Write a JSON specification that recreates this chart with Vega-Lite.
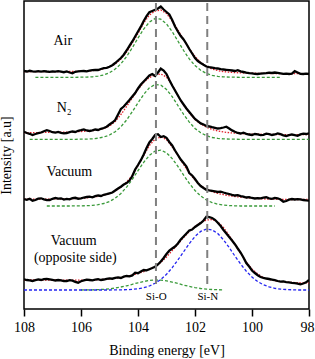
{
"$schema": "https://vega.github.io/schema/vega-lite/v6.json",
"width": 285, "height": 308,
"autosize": {"type": "none"},
"padding": {"left": 24, "top": 1, "right": 6, "bottom": 50},
"config": {"view": {"stroke": "#000", "strokeWidth": 1.5}, "font": "Liberation Serif"},
"datasets": {
"spec": [
{"e":108.0,"A":238,"N":177.3,"V":110.0,"O":29.7},
{"e":107.9,"A":237.5,"N":176.0,"V":109.2,"O":29.0},
{"e":107.8,"A":238.2,"N":175.2,"V":110.3,"O":28.6},
{"e":107.7,"A":237.6,"N":174.0,"V":108.3,"O":28.0},
{"e":107.6,"A":237.3,"N":175.0,"V":109.0,"O":28.8},
{"e":107.5,"A":237.8,"N":175.8,"V":110.4,"O":29.6},
{"e":107.4,"A":237.4,"N":176.5,"V":110.7,"O":29.0},
{"e":107.3,"A":237.9,"N":177.8,"V":109.6,"O":29.8},
{"e":107.2,"A":237.5,"N":178.8,"V":108.8,"O":30.2},
{"e":107.1,"A":237.2,"N":178.0,"V":109.0,"O":29.7},
{"e":107.0,"A":237.6,"N":176.8,"V":110.2,"O":29.2},
{"e":106.9,"A":237.3,"N":176.3,"V":111.0,"O":28.5},
{"e":106.8,"A":237.8,"N":177.0,"V":110.4,"O":29.0},
{"e":106.7,"A":237.4,"N":176.2,"V":110.7,"O":28.6},
{"e":106.6,"A":236.8,"N":175.6,"V":109.5,"O":27.8},
{"e":106.5,"A":237.5,"N":176.0,"V":110.2,"O":28.0},
{"e":106.4,"A":236.5,"N":176.8,"V":109.7,"O":28.9},
{"e":106.3,"A":235.8,"N":177.5,"V":110.8,"O":28.4},
{"e":106.2,"A":237.2,"N":177.0,"V":111.2,"O":27.2},
{"e":106.1,"A":237.6,"N":178.2,"V":110.3,"O":26.3},
{"e":106.0,"A":237.9,"N":178.8,"V":110.7,"O":27.8},
{"e":105.9,"A":238.0,"N":179.6,"V":111.5,"O":28.6},
{"e":105.8,"A":237.6,"N":178.5,"V":112.0,"O":29.3},
{"e":105.7,"A":238.4,"N":178.0,"V":112.3,"O":29.0},
{"e":105.6,"A":238.8,"N":178.6,"V":111.6,"O":28.6},
{"e":105.5,"A":239.2,"N":179.5,"V":112.8,"O":29.4},
{"e":105.4,"A":239.0,"N":179.0,"V":113.5,"O":29.8},
{"e":105.3,"A":240.0,"N":180.2,"V":113.0,"O":29.0},
{"e":105.2,"A":240.8,"N":181.0,"V":114.2,"O":29.5},
{"e":105.1,"A":241.2,"N":182.3,"V":114.8,"O":30.2},
{"e":105.0,"A":242.2,"N":184.5,"V":115.7,"O":30.7},
{"e":104.9,"A":243.8,"N":186.5,"V":116.5,"O":30.3},
{"e":104.8,"A":246.0,"N":189.0,"V":118.5,"O":31.2},
{"e":104.7,"A":248.5,"N":194.5,"V":120.5,"O":31.6},
{"e":104.6,"A":251.0,"N":200.0,"V":122.3,"O":31.0},
{"e":104.5,"A":254.3,"N":202.5,"V":124.5,"O":32.3},
{"e":104.4,"A":258.5,"N":205.7,"V":126.0,"O":33.0},
{"e":104.3,"A":263.2,"N":209.0,"V":128.5,"O":32.6},
{"e":104.2,"A":267.5,"N":212.5,"V":133.0,"O":33.6},
{"e":104.1,"A":272.5,"N":216.0,"V":139.5,"O":36.3},
{"e":104.0,"A":277.5,"N":220.5,"V":144.0,"O":35.8},
{"e":103.9,"A":282.3,"N":224.5,"V":148.8,"O":37.5},
{"e":103.8,"A":288.0,"N":227.5,"V":154.5,"O":39.0},
{"e":103.7,"A":292.8,"N":230.5,"V":161.0,"O":38.6},
{"e":103.6,"A":296.8,"N":233.5,"V":166.5,"O":39.8},
{"e":103.5,"A":298.0,"N":235.0,"V":170.0,"O":41.0},
{"e":103.4,"A":299.2,"N":233.0,"V":174.0,"O":42.3},
{"e":103.3,"A":300.5,"N":236.5,"V":174.8,"O":44.5},
{"e":103.2,"A":302.5,"N":240.5,"V":172.0,"O":47.5},
{"e":103.1,"A":299.5,"N":238.5,"V":172.8,"O":51.0},
{"e":103.0,"A":297.0,"N":235.0,"V":171.2,"O":55.0},
{"e":102.9,"A":294.5,"N":229.0,"V":167.0,"O":58.5},
{"e":102.8,"A":289.0,"N":223.5,"V":163.5,"O":60.5},
{"e":102.7,"A":282.5,"N":218.5,"V":158.5,"O":62.5},
{"e":102.6,"A":277.5,"N":213.5,"V":154.0,"O":65.5},
{"e":102.5,"A":273.0,"N":208.5,"V":149.5,"O":69.5},
{"e":102.4,"A":269.5,"N":204.5,"V":146.0,"O":72.5},
{"e":102.3,"A":265.0,"N":200.5,"V":142.5,"O":75.5},
{"e":102.2,"A":260.0,"N":197.0,"V":136.0,"O":78.5},
{"e":102.1,"A":255.5,"N":193.5,"V":133.5,"O":79.5},
{"e":102.0,"A":251.0,"N":190.0,"V":130.0,"O":82.0},
{"e":101.9,"A":248.0,"N":187.8,"V":126.0,"O":84.0},
{"e":101.8,"A":246.0,"N":185.6,"V":123.0,"O":86.0},
{"e":101.7,"A":244.2,"N":184.5,"V":121.0,"O":88.5},
{"e":101.6,"A":242.5,"N":183.0,"V":119.2,"O":92.3},
{"e":101.5,"A":241.8,"N":182.5,"V":118.6,"O":91.8},
{"e":101.4,"A":241.3,"N":181.8,"V":118.2,"O":91.0},
{"e":101.3,"A":240.8,"N":181.2,"V":117.6,"O":89.2},
{"e":101.2,"A":240.5,"N":180.5,"V":117.0,"O":86.2},
{"e":101.1,"A":239.8,"N":180.8,"V":117.4,"O":83.0},
{"e":101.0,"A":239.5,"N":181.5,"V":116.5,"O":79.0},
{"e":100.9,"A":239.2,"N":182.3,"V":115.7,"O":75.5},
{"e":100.8,"A":238.9,"N":180.5,"V":115.0,"O":72.0},
{"e":100.7,"A":238.5,"N":178.6,"V":114.2,"O":68.5},
{"e":100.6,"A":238.0,"N":177.2,"V":113.5,"O":64.8},
{"e":100.5,"A":238.8,"N":176.0,"V":113.8,"O":60.5},
{"e":100.4,"A":237.6,"N":175.5,"V":112.8,"O":56.5},
{"e":100.3,"A":237.0,"N":176.3,"V":112.3,"O":51.5},
{"e":100.2,"A":236.4,"N":175.2,"V":111.5,"O":46.0},
{"e":100.1,"A":235.9,"N":174.5,"V":111.9,"O":42.5},
{"e":100.0,"A":235.6,"N":174.0,"V":111.0,"O":38.5},
{"e":99.9,"A":235.2,"N":175.0,"V":110.5,"O":36.0},
{"e":99.8,"A":235.0,"N":174.6,"V":110.9,"O":33.8},
{"e":99.7,"A":235.3,"N":173.8,"V":110.7,"O":32.0},
{"e":99.6,"A":235.6,"N":174.2,"V":111.3,"O":31.2},
{"e":99.5,"A":235.9,"N":175.3,"V":111.7,"O":30.5},
{"e":99.4,"A":236.3,"N":174.8,"V":110.6,"O":30.0},
{"e":99.3,"A":236.0,"N":174.0,"V":110.2,"O":29.4},
{"e":99.2,"A":236.5,"N":174.5,"V":111.0,"O":28.8},
{"e":99.1,"A":236.2,"N":175.6,"V":110.7,"O":28.0},
{"e":99.0,"A":235.7,"N":174.8,"V":109.5,"O":27.3},
{"e":98.9,"A":235.2,"N":173.6,"V":107.3,"O":27.6},
{"e":98.8,"A":235.4,"N":173.0,"V":108.0,"O":26.9},
{"e":98.7,"A":235.0,"N":173.8,"V":109.4,"O":26.7},
{"e":98.6,"A":235.3,"N":174.5,"V":110.0,"O":26.2},
{"e":98.5,"A":237.8,"N":173.9,"V":109.5,"O":25.8},
{"e":98.4,"A":236.5,"N":173.2,"V":109.9,"O":25.4},
{"e":98.3,"A":235.2,"N":174.6,"V":109.7,"O":24.7},
{"e":98.2,"A":235.0,"N":175.4,"V":109.0,"O":25.5},
{"e":98.1,"A":235.3,"N":175.0,"V":108.6,"O":26.7},
{"e":98.0,"A":235.0,"N":175.7,"V":108.3,"O":29.0}
],
"fit": [
{"e":108.0,"A":237.4,"N":176.5,"V":109.8,"O":29.0},
{"e":107.8,"A":237.4,"N":176.4,"V":109.8,"O":29.0},
{"e":107.6,"A":237.4,"N":176.4,"V":109.8,"O":29.0},
{"e":107.4,"A":237.4,"N":176.5,"V":109.9,"O":29.0},
{"e":107.2,"A":237.4,"N":176.6,"V":109.9,"O":29.0},
{"e":107.0,"A":237.4,"N":176.6,"V":110.0,"O":29.0},
{"e":106.8,"A":237.4,"N":176.7,"V":110.1,"O":29.0},
{"e":106.6,"A":237.4,"N":176.8,"V":110.2,"O":28.9},
{"e":106.4,"A":237.5,"N":177.0,"V":110.3,"O":28.9},
{"e":106.2,"A":237.6,"N":177.2,"V":110.5,"O":28.9},
{"e":106.0,"A":237.7,"N":177.5,"V":110.8,"O":28.9},
{"e":105.8,"A":238.0,"N":177.9,"V":111.2,"O":29.0},
{"e":105.6,"A":238.4,"N":178.4,"V":111.8,"O":29.1},
{"e":105.4,"A":239.0,"N":179.2,"V":112.6,"O":29.3},
{"e":105.2,"A":240.2,"N":180.6,"V":113.8,"O":29.6},
{"e":105.0,"A":242.0,"N":183.0,"V":115.5,"O":30.1},
{"e":104.8,"A":245.0,"N":187.5,"V":118.0,"O":30.8},
{"e":104.6,"A":250.0,"N":194.5,"V":121.8,"O":31.6},
{"e":104.4,"A":257.0,"N":202.5,"V":127.0,"O":32.6},
{"e":104.2,"A":266.0,"N":211.0,"V":133.5,"O":34.0},
{"e":104.0,"A":275.5,"N":219.5,"V":143.5,"O":35.5},
{"e":103.8,"A":286.0,"N":226.5,"V":153.5,"O":37.4},
{"e":103.6,"A":294.0,"N":231.5,"V":163.5,"O":39.6},
{"e":103.4,"A":298.0,"N":234.0,"V":170.0,"O":42.5},
{"e":103.2,"A":299.0,"N":235.0,"V":172.0,"O":46.5},
{"e":103.0,"A":295.5,"N":232.0,"V":169.5,"O":52.0},
{"e":102.8,"A":288.0,"N":224.0,"V":162.0,"O":58.5},
{"e":102.6,"A":279.0,"N":213.5,"V":153.5,"O":65.0},
{"e":102.4,"A":269.5,"N":204.0,"V":144.5,"O":71.5},
{"e":102.2,"A":260.5,"N":196.0,"V":136.0,"O":77.5},
{"e":102.0,"A":252.5,"N":189.5,"V":129.0,"O":82.5},
{"e":101.8,"A":246.5,"N":185.0,"V":123.5,"O":86.5},
{"e":101.6,"A":242.5,"N":181.8,"V":119.8,"O":89.0},
{"e":101.4,"A":240.0,"N":179.6,"V":117.3,"O":89.5},
{"e":101.2,"A":238.4,"N":178.0,"V":115.6,"O":87.0},
{"e":101.0,"A":237.4,"N":177.0,"V":114.3,"O":81.5},
{"e":100.8,"A":236.8,"N":176.3,"V":113.3,"O":73.5},
{"e":100.6,"A":236.4,"N":175.8,"V":112.5,"O":64.5},
{"e":100.4,"A":236.1,"N":175.4,"V":111.8,"O":55.5},
{"e":100.2,"A":235.9,"N":175.1,"V":111.2,"O":47.0},
{"e":100.0,"A":235.8,"N":174.9,"V":110.7,"O":40.0},
{"e":99.8,"A":235.7,"N":174.8,"V":110.4,"O":35.0},
{"e":99.6,"A":235.6,"N":174.7,"V":110.1,"O":31.5},
{"e":99.4,"A":235.5,"N":174.6,"V":109.9,"O":29.5},
{"e":99.2,"A":235.5,"N":174.5,"V":109.8,"O":28.3},
{"e":99.0,"A":235.4,"N":174.5,"V":109.7,"O":27.5},
{"e":98.8,"A":235.4,"N":174.4,"V":109.6,"O":27.0},
{"e":98.6,"A":235.3,"N":174.4,"V":109.5,"O":26.6},
{"e":98.4,"A":235.3,"N":174.4,"V":109.5,"O":26.3},
{"e":98.2,"A":235.3,"N":174.4,"V":109.5,"O":26.1},
{"e":98.0,"A":235.3,"N":174.4,"V":109.5,"O":26.0}
],
"comp": [
{"e":108.0,"A":null,"N":null,"V":null,"O":null,"B":19.0},
{"e":107.8,"A":null,"N":169.7,"V":null,"O":null,"B":19.0},
{"e":107.6,"A":231.7,"N":169.7,"V":null,"O":null,"B":19.0},
{"e":107.4,"A":231.7,"N":169.7,"V":null,"O":null,"B":19.0},
{"e":107.2,"A":231.7,"N":169.7,"V":103.0,"O":null,"B":19.0},
{"e":107.0,"A":231.7,"N":169.7,"V":103.0,"O":null,"B":19.0},
{"e":106.8,"A":231.7,"N":169.7,"V":103.0,"O":null,"B":19.0},
{"e":106.6,"A":231.7,"N":169.7,"V":103.0,"O":null,"B":19.0},
{"e":106.4,"A":231.7,"N":169.7,"V":103.0,"O":null,"B":19.0},
{"e":106.2,"A":231.7,"N":169.7,"V":103.1,"O":null,"B":19.0},
{"e":106.0,"A":231.8,"N":169.8,"V":103.1,"O":19.0,"B":19.0},
{"e":105.8,"A":231.9,"N":169.9,"V":103.3,"O":19.1,"B":19.0},
{"e":105.6,"A":232.2,"N":170.2,"V":103.6,"O":19.2,"B":19.0},
{"e":105.4,"A":232.9,"N":170.8,"V":104.3,"O":19.4,"B":19.0},
{"e":105.2,"A":234.1,"N":172.0,"V":105.5,"O":19.7,"B":19.0},
{"e":105.0,"A":236.3,"N":174.0,"V":107.5,"O":20.2,"B":19.0},
{"e":104.8,"A":239.9,"N":177.3,"V":110.8,"O":20.9,"B":19.1},
{"e":104.6,"A":245.2,"N":182.3,"V":115.5,"O":22.0,"B":19.2},
{"e":104.4,"A":252.4,"N":189.0,"V":121.9,"O":23.2,"B":19.3},
{"e":104.2,"A":261.3,"N":197.3,"V":129.7,"O":24.7,"B":19.7},
{"e":104.0,"A":270.9,"N":206.2,"V":138.3,"O":26.2,"B":20.3},
{"e":103.8,"A":279.9,"N":214.6,"V":146.7,"O":27.5,"B":21.3},
{"e":103.6,"A":286.9,"N":221.2,"V":153.6,"O":28.5,"B":23.0},
{"e":103.4,"A":290.5,"N":224.5,"V":158.0,"O":29.0,"B":25.7},
{"e":103.2,"A":289.8,"N":223.9,"V":158.9,"O":28.8,"B":29.5},
{"e":103.0,"A":285.1,"N":219.5,"V":156.2,"O":28.1,"B":34.7},
{"e":102.8,"A":277.4,"N":212.3,"V":150.4,"O":26.9,"B":41.3},
{"e":102.6,"A":268.0,"N":203.5,"V":142.6,"O":25.5,"B":49.0},
{"e":102.4,"A":258.5,"N":194.7,"V":133.9,"O":23.9,"B":57.2},
{"e":102.2,"A":250.1,"N":186.9,"V":125.6,"O":22.6,"B":65.4},
{"e":102.0,"A":243.4,"N":180.6,"V":118.5,"O":21.4,"B":72.5},
{"e":101.8,"A":238.7,"N":176.2,"V":113.0,"O":20.5,"B":77.6},
{"e":101.6,"A":235.5,"N":173.3,"V":109.0,"O":19.9,"B":79.9},
{"e":101.4,"A":233.7,"N":171.5,"V":106.4,"O":19.5,"B":79.1},
{"e":101.2,"A":232.6,"N":170.6,"V":104.8,"O":19.3,"B":75.4},
{"e":101.0,"A":232.1,"N":170.1,"V":103.9,"O":19.1,"B":69.2},
{"e":100.8,"A":231.9,"N":169.9,"V":103.4,"O":null,"B":61.4},
{"e":100.6,"A":231.8,"N":169.8,"V":103.2,"O":null,"B":53.0},
{"e":100.4,"A":231.7,"N":169.7,"V":103.0,"O":null,"B":45.0},
{"e":100.2,"A":231.7,"N":169.7,"V":103.0,"O":null,"B":37.8},
{"e":100.0,"A":231.7,"N":169.7,"V":103.0,"O":null,"B":31.9},
{"e":99.8,"A":231.7,"N":169.7,"V":103.0,"O":null,"B":27.4},
{"e":99.6,"A":231.7,"N":169.7,"V":103.0,"O":null,"B":24.2},
{"e":99.4,"A":231.7,"N":169.7,"V":103.0,"O":null,"B":22.1},
{"e":99.2,"A":231.7,"N":169.7,"V":103.0,"O":null,"B":20.7},
{"e":99.0,"A":231.7,"N":169.7,"V":null,"O":null,"B":19.9},
{"e":98.8,"A":null,"N":169.7,"V":null,"O":null,"B":19.5},
{"e":98.6,"A":null,"N":169.7,"V":null,"O":null,"B":19.2},
{"e":98.4,"A":null,"N":169.7,"V":null,"O":null,"B":19.0},
{"e":98.2,"A":null,"N":169.7,"V":null,"O":null,"B":19.0},
{"e":98.0,"A":null,"N":169.7,"V":null,"O":null,"B":19.0}
]
},
"encoding": {
"x": {"field": "e", "type": "quantitative",
 "scale": {"domain": [98, 108], "reverse": true, "nice": false, "zero": false},
 "axis": {"title": "Binding energy [eV]", "values": [108, 106, 104, 102, 100, 98], "format": "d", "grid": false, "domain": false,
  "tickSize": 7, "tickWidth": 1.5, "tickColor": "#000", "labelFont": "Liberation Serif", "labelFontSize": 14, "labelColor": "#000",
  "labelPadding": 4, "labelFlush": false, "labelOverlap": false, "labelOffset": {"expr": "datum.value == 98 ? -2 : 0"},
  "titleFont": "Liberation Serif", "titleFontSize": 14,
  "titleFontWeight": "normal", "titleColor": "#000", "titlePadding": 9}},
"y": {"field": "h", "type": "quantitative",
 "scale": {"domain": [0, 308], "nice": false, "zero": false},
 "axis": {"title": "Intensity [a.u]", "labels": false, "ticks": false, "domain": false, "grid": false,
  "titleFont": "Liberation Serif", "titleFontSize": 14, "titleFontWeight": "normal", "titleColor": "#000", "titlePadding": 11}}
},
"layer": [
{"data": {"name": "comp"},
 "transform": [{"fold": ["A", "N", "V", "O"], "as": ["s", "h"]}, {"filter": "isValid(datum.h)"}],
 "mark": {"type": "line", "color": "#3a9a3a", "strokeWidth": 1.3, "strokeDash": [3, 2], "clip": true},
 "encoding": {"detail": {"field": "s"}}},
{"data": {"name": "comp"},
 "transform": [{"fold": ["B"], "as": ["s", "h"]}],
 "mark": {"type": "line", "color": "#2424f0", "strokeWidth": 1.3, "strokeDash": [3, 2], "clip": true},
 "encoding": {"detail": {"field": "s"}}},
{"data": {"name": "fit"},
 "transform": [{"fold": ["A", "N", "V", "O"], "as": ["s", "h"]}],
 "mark": {"type": "line", "color": "#e0202a", "strokeWidth": 1.3, "strokeDash": [1.5, 1.5], "clip": true},
 "encoding": {"detail": {"field": "s"}}},
{"data": {"name": "spec"},
 "transform": [{"fold": ["A", "N", "V", "O"], "as": ["s", "h"]}],
 "mark": {"type": "line", "color": "#000", "strokeWidth": 2.3, "clip": true},
 "encoding": {"detail": {"field": "s"}}},
{"data": {"values": [{"e": 103.37, "h": 25, "h2": 308}, {"e": 101.57, "h": 25, "h2": 308}]},
 "mark": {"type": "rule", "color": "#808080", "strokeWidth": 2, "strokeDash": [8, 5]},
 "encoding": {"y2": {"field": "h2"}}},
{"data": {"values": [
  {"e": 106.64, "h": 264, "t": "Air"},
  {"e": 106.59, "h": 197.3, "t": "N₂"},
  {"e": 106.41, "h": 133, "t": "Vacuum"},
  {"e": 106.26, "h": 64, "t": "Vacuum"},
  {"e": 106.2, "h": 47.3, "t": "(opposite side)"}]},
 "mark": {"type": "text", "font": "Liberation Serif", "fontSize": 14, "color": "#000", "align": "center", "baseline": "alphabetic"},
 "encoding": {"text": {"field": "t"}}},
{"data": {"values": [
  {"e": 103.36, "h": 9, "t": "Si-O"},
  {"e": 101.55, "h": 9, "t": "Si-N"}]},
 "mark": {"type": "text", "font": "Liberation Serif", "fontSize": 11, "color": "#000", "align": "center", "baseline": "alphabetic"},
 "encoding": {"text": {"field": "t"}}}
]
}
